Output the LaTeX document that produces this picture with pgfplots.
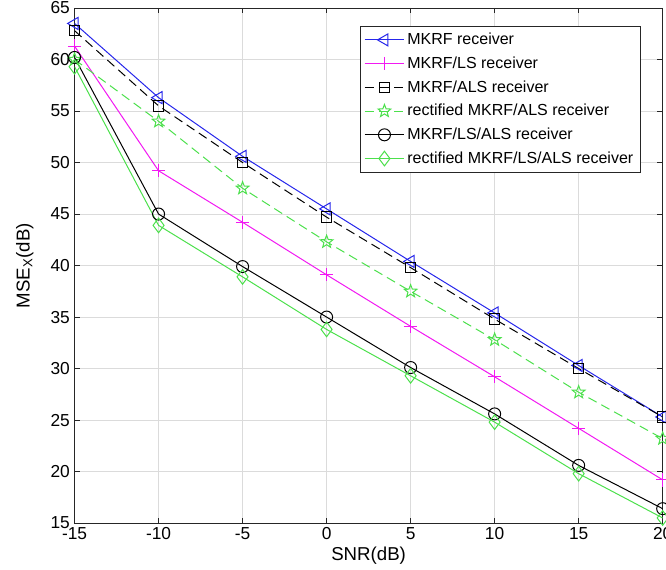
\documentclass[border=0pt]{standalone}
\usepackage{pgfplots}
\pgfplotsset{compat=1.18}
\usepackage{fontspec}
\setmainfont{Liberation Sans}
\definecolor{mblue}{rgb}{0.15,0.15,0.92}
\definecolor{mmag}{rgb}{0.95,0.1,0.95}
\definecolor{mgreen}{rgb}{0.3,0.88,0.3}
\definecolor{gridc}{rgb}{0.86,0.86,0.86}
\definecolor{axc}{rgb}{0.15,0.15,0.15}
\pgfdeclareplotmark{pentagram}{%
  \pgfpathmoveto{\pgfpointpolar{90}{\pgfplotmarksize}}%
  \pgfpathlineto{\pgfpointpolar{126}{0.42\pgfplotmarksize}}%
  \pgfpathlineto{\pgfpointpolar{162}{\pgfplotmarksize}}%
  \pgfpathlineto{\pgfpointpolar{198}{0.42\pgfplotmarksize}}%
  \pgfpathlineto{\pgfpointpolar{234}{\pgfplotmarksize}}%
  \pgfpathlineto{\pgfpointpolar{270}{0.42\pgfplotmarksize}}%
  \pgfpathlineto{\pgfpointpolar{306}{\pgfplotmarksize}}%
  \pgfpathlineto{\pgfpointpolar{342}{0.42\pgfplotmarksize}}%
  \pgfpathlineto{\pgfpointpolar{18}{\pgfplotmarksize}}%
  \pgfpathlineto{\pgfpointpolar{54}{0.42\pgfplotmarksize}}%
  \pgfpathclose\pgfusepathqstroke}
\begin{document}
\begin{tikzpicture}
\begin{axis}[
  scale only axis,
  width=441pt, height=386.25pt,
  xmin=-15, xmax=20, ymin=15, ymax=65,
  xtick={-15,-10,...,20}, ytick={15,20,...,65},
  /pgf/number format/assume math mode=true,
  ticklabel style={font=\fontsize{13}{15}\selectfont},
  grid=major,
  major grid style={gridc, line width=0.5pt},
  axis line style={axc, line width=0.6pt},
  tick style={axc, line width=0.6pt},
  tick align=inside,
  major tick length=4pt,
  xtick pos=both, ytick pos=both,
  xlabel={SNR(dB)}, ylabel={MSE\textsubscript{X}(dB)},
  label style={font=\fontsize{14}{16}\selectfont},
  xlabel style={yshift=2pt},
  ylabel style={yshift=6pt},
  legend image code/.code={\draw[mark repeat=2,mark phase=2] plot coordinates {(0cm,0cm)(0.52cm,0cm)(1.04cm,0cm)};},
  legend style={at={(0.962,0.965)}, anchor=north east, draw=axc, line width=0.6pt,
    font=\fontsize{12}{14}\selectfont, cells={anchor=west}, row sep=3.6pt,
    inner xsep=3pt, inner ysep=3pt},
  legend cell align=left,
  every axis plot/.append style={line width=0.75pt, mark size=4.5pt, mark options={solid}},
]
\addplot[mblue, mark=triangle, mark options={solid, rotate=90, mark size=5.2pt}] coordinates {
(-15,63.5) (-10,56.3) (-5,50.6) (0,45.5) (5,40.4) (10,35.4) (15,30.3) (20,25.3)};
\addlegendentry{MKRF receiver}
\addplot[mmag, mark=+, mark options={solid, mark size=5pt}] coordinates {
(-15,61.3) (-10,49.2) (-5,44.2) (0,39.1) (5,34.1) (10,29.2) (15,24.2) (20,19.2)};
\addlegendentry{MKRF/LS receiver}
\addplot[black, dash pattern=on 7pt off 4pt, mark=square, mark options={solid, mark size=4pt}] coordinates {
(-15,62.8) (-10,55.5) (-5,50.0) (0,44.7) (5,39.8) (10,34.8) (15,30.0) (20,25.3)};
\addlegendentry{MKRF/ALS receiver}
\addplot[mgreen, dash pattern=on 7pt off 4pt, mark=pentagram, mark options={solid, mark size=5pt}] coordinates {
(-15,60.0) (-10,54.0) (-5,47.5) (0,42.3) (5,37.5) (10,32.8) (15,27.7) (20,23.2)};
\addlegendentry{rectified MKRF/ALS receiver}
\addplot[black, mark=o] coordinates {
(-15,60.2) (-10,45.0) (-5,39.9) (0,35.0) (5,30.1) (10,25.6) (15,20.6) (20,16.4)};
\addlegendentry{MKRF/LS/ALS receiver}
\addplot[mgreen, mark=diamond, mark options={solid, mark size=5.5pt}] coordinates {
(-15,59.3) (-10,43.9) (-5,38.9) (0,33.8) (5,29.3) (10,24.8) (15,19.8) (20,15.5)};
\addlegendentry{rectified MKRF/LS/ALS receiver}
\end{axis}
\pgfresetboundingbox
\path ([shift={(-55.9pt,-34.5pt)}]current axis.south west) rectangle ([shift={(2.5pt,6pt)}]current axis.north east);
\end{tikzpicture}
\end{document}
